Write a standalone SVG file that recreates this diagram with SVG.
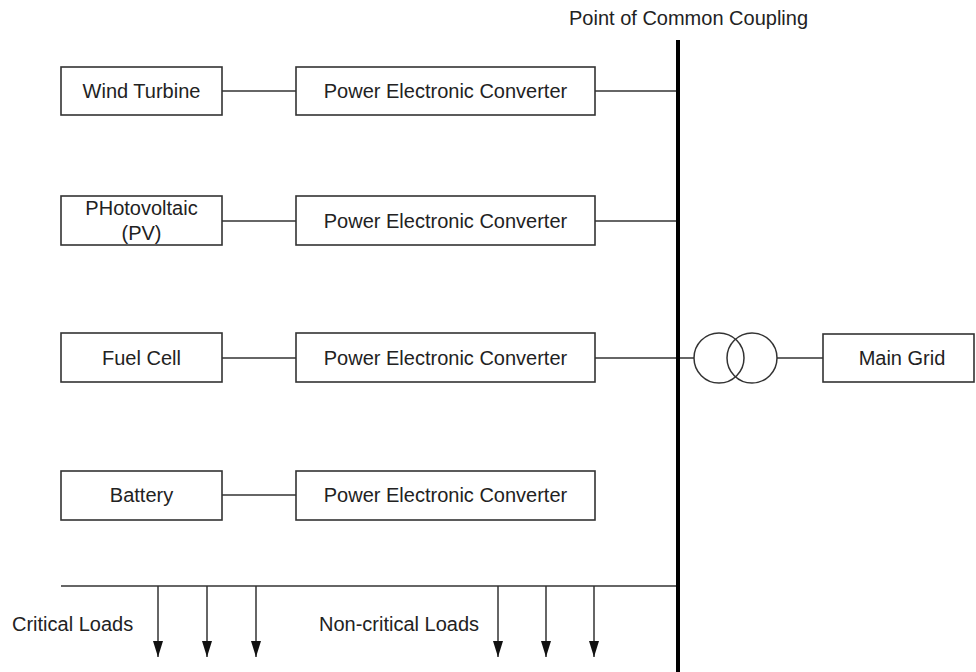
<svg xmlns="http://www.w3.org/2000/svg" width="976" height="672" viewBox="0 0 976 672">
<defs>
<style>
.box{fill:#fff;stroke:#333;stroke-width:1.6}
.ln{stroke:#333;stroke-width:1.5;fill:none}
.t{font-family:"Liberation Sans",Arial,sans-serif;font-size:20px;fill:#222;text-anchor:middle}
.tl{font-family:"Liberation Sans",Arial,sans-serif;font-size:20px;fill:#222}
</style>
<marker id="arr" viewBox="0 0 16 10" refX="16" refY="5" markerWidth="16" markerHeight="10" markerUnits="userSpaceOnUse" orient="auto">
<path d="M0,0 L16,5 L0,10 Z" fill="#111"/>
</marker>
</defs>
<rect width="976" height="672" fill="#fff"/>

<g id="connectors">
<line class="ln" x1="222" y1="91" x2="296" y2="91"/>
<line class="ln" x1="595" y1="91" x2="678" y2="91"/>
<line class="ln" x1="222" y1="221" x2="296" y2="221"/>
<line class="ln" x1="595" y1="221" x2="678" y2="221"/>
<line class="ln" x1="222" y1="358" x2="296" y2="358"/>
<line class="ln" x1="595" y1="358" x2="694" y2="358"/>
<line class="ln" x1="777" y1="358" x2="823" y2="358"/>
<line class="ln" x1="222" y1="495" x2="296" y2="495"/>
<line class="ln" x1="61" y1="586" x2="678" y2="586"/>
<line class="ln" x1="158" y1="586" x2="158" y2="657" marker-end="url(#arr)"/>
<line class="ln" x1="207" y1="586" x2="207" y2="657" marker-end="url(#arr)"/>
<line class="ln" x1="256" y1="586" x2="256" y2="657" marker-end="url(#arr)"/>
<line class="ln" x1="498" y1="586" x2="498" y2="657" marker-end="url(#arr)"/>
<line class="ln" x1="546" y1="586" x2="546" y2="657" marker-end="url(#arr)"/>
<line class="ln" x1="594" y1="586" x2="594" y2="657" marker-end="url(#arr)"/>
</g>

<g id="pcc">
<line x1="678" y1="40" x2="678" y2="672" stroke="#000" stroke-width="4"/>
<text class="tl" x="569" y="25">Point of Common Coupling</text>
</g>

<g id="wind-turbine">
<rect class="box" x="61" y="67" width="161" height="48"/>
<text class="t" x="141.5" y="98">Wind Turbine</text>
</g>
<g id="pec1">
<rect class="box" x="296" y="67" width="299" height="48"/>
<text class="t" x="445.5" y="98">Power Electronic Converter</text>
</g>

<g id="pv">
<rect class="box" x="61" y="196" width="161" height="49"/>
<text class="t" x="141.5" y="215">PHotovoltaic</text>
<text class="t" x="141.5" y="240">(PV)</text>
</g>
<g id="pec2">
<rect class="box" x="296" y="196" width="299" height="49"/>
<text class="t" x="445.5" y="228">Power Electronic Converter</text>
</g>

<g id="fuel-cell">
<rect class="box" x="61" y="333" width="161" height="49"/>
<text class="t" x="141.5" y="365">Fuel Cell</text>
</g>
<g id="pec3">
<rect class="box" x="296" y="333" width="299" height="49"/>
<text class="t" x="445.5" y="365">Power Electronic Converter</text>
</g>

<g id="battery">
<rect class="box" x="61" y="471" width="161" height="49"/>
<text class="t" x="141.5" y="502">Battery</text>
</g>
<g id="pec4">
<rect class="box" x="296" y="471" width="299" height="49"/>
<text class="t" x="445.5" y="502">Power Electronic Converter</text>
</g>

<g id="transformer">
<circle cx="719" cy="358" r="25" fill="none" stroke="#333" stroke-width="1.5"/>
<circle cx="752" cy="358" r="25" fill="none" stroke="#333" stroke-width="1.5"/>
</g>

<g id="main-grid">
<rect class="box" x="823" y="334" width="151" height="48"/>
<text class="t" x="902" y="365">Main Grid</text>
</g>

<g id="loads">
<text class="tl" x="12" y="631">Critical Loads</text>
<text class="tl" x="319" y="631">Non-critical Loads</text>
</g>
</svg>
